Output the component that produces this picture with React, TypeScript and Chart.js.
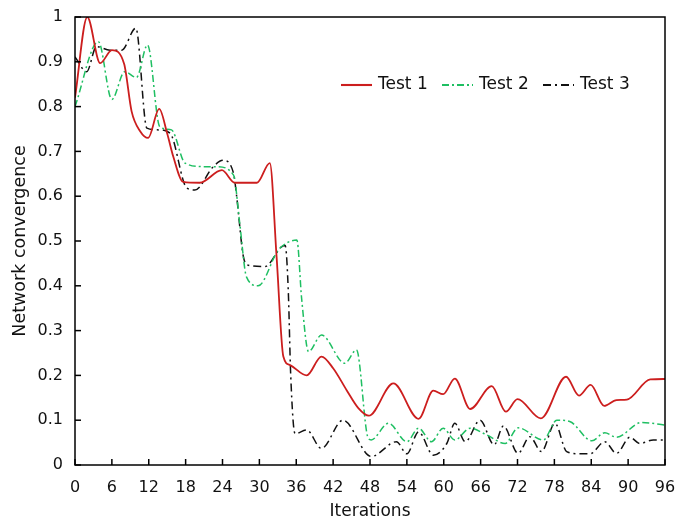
import React, { useEffect, useRef } from "react";
import { Chart, registerables } from "chart.js";

Chart.register(...registerables);

const xTicks = [0, 6, 12, 18, 24, 30, 36, 42, 48, 54, 60, 66, 72, 78, 84, 90, 96];
const yTicks = [0, 0.1, 0.2, 0.3, 0.4, 0.5, 0.6, 0.7, 0.8, 0.9, 1];

const test1X = [0, 2, 4.1, 6, 8, 9.2, 10.6, 11.9, 13.7, 15, 16, 17.6, 20.3, 23.9, 26, 29.6, 31.7, 32.8, 33.9, 35, 37.7, 40.1, 42, 44.2, 46.1, 47.8, 51.8, 55.9, 58.3, 59.9, 61.8, 64.3, 67.8, 70.1, 72, 75.8, 79.9, 82, 83.9, 86.1, 88.1, 89.8, 93.6, 96];
const test1Y = [0.82, 1.0, 0.897, 0.926, 0.895, 0.79, 0.745, 0.73, 0.795, 0.74, 0.688, 0.632, 0.63, 0.658, 0.63, 0.63, 0.674, 0.465, 0.242, 0.223, 0.2, 0.242, 0.216, 0.167, 0.127, 0.11, 0.182, 0.103, 0.166, 0.158, 0.193, 0.125, 0.176, 0.119, 0.147, 0.104, 0.197, 0.155, 0.179, 0.132, 0.145, 0.146, 0.191, 0.192];

const test2X = [0, 3.8, 6, 8.1, 10, 11.8, 13.8, 15.7, 17.9, 20.9, 23, 25.8, 26.8, 27.9, 29.8, 33.1, 36.1, 36.9, 38, 40.1, 43.9, 45.8, 47.7, 48.2, 51, 54, 55.9, 58, 59.9, 61.8, 64.3, 67, 70, 72.1, 76.2, 78.4, 80.5, 84.1, 86.2, 88.1, 92.2, 96];
const test2Y = [0.8, 0.945, 0.816, 0.878, 0.865, 0.9375, 0.755, 0.748, 0.674, 0.666, 0.666, 0.647, 0.54, 0.42, 0.4, 0.48, 0.502, 0.368, 0.253, 0.29, 0.227, 0.257, 0.06, 0.056, 0.093, 0.052, 0.082, 0.052, 0.082, 0.056, 0.082, 0.067, 0.048, 0.083, 0.056, 0.1, 0.097, 0.054, 0.072, 0.062, 0.095, 0.089];

const test3X = [0, 1.9, 3.5, 5.7, 7.6, 9.9, 11.7, 13.8, 15.5, 18.2, 19.5, 22.5, 24.1, 25.8, 26.3, 27.4, 28.2, 30.9, 33.6, 34.2, 34.7, 35.1, 35.8, 37.7, 40.1, 43.6, 48.2, 52.3, 54, 55.9, 58.3, 60.5, 61.8, 63.5, 65.9, 68.2, 69.7, 72.1, 74, 75.9, 78.1, 80, 82.2, 83.8, 86.2, 88.1, 90.3, 91.9, 94.1, 96];
const test3Y = [0.911, 0.878, 0.934, 0.926, 0.926, 0.975, 0.752, 0.748, 0.74, 0.618, 0.614, 0.666, 0.68, 0.651, 0.6, 0.465, 0.446, 0.443, 0.487, 0.49, 0.39, 0.2, 0.07, 0.078, 0.037, 0.1, 0.019, 0.052, 0.025, 0.074, 0.022, 0.048, 0.093, 0.052, 0.1, 0.045, 0.087, 0.026, 0.063, 0.03, 0.093, 0.03, 0.025, 0.025, 0.052, 0.026, 0.062, 0.048, 0.056, 0.056];

const seriesNames = ["Test 1", "Test 2", "Test 3"];
const seriesColors = ["#cc1e1e", "#1fbf62", "#111111"];
const seriesDashes: number[][] = [[], [7, 3, 2, 3], [8, 4, 2, 4]];
const seriesWidths = [1.8, 1.5, 1.5];

const FONT = "'DejaVu Sans', Verdana, sans-serif";

const toPoints = (xs: number[], ys: number[]) => xs.map((x, i) => ({ x, y: ys[i] }));

const framePlugin = {
  id: "frameTicks",
  afterDraw(chart: any) {
    const { ctx, chartArea, scales } = chart;
    const { left, right, top, bottom } = chartArea;
    ctx.save();
    ctx.strokeStyle = "#000";
    ctx.lineWidth = 1.5;
    ctx.setLineDash([]);
    ctx.strokeRect(left, top, right - left, bottom - top);
    xTicks.forEach((v) => {
      const px = scales.x.getPixelForValue(v);
      ctx.beginPath();
      ctx.moveTo(px, bottom);
      ctx.lineTo(px, bottom - 6);
      ctx.stroke();
    });
    yTicks.forEach((v) => {
      const py = scales.y.getPixelForValue(v);
      ctx.beginPath();
      ctx.moveTo(left, py);
      ctx.lineTo(left + 6, py);
      ctx.stroke();
    });
    // legend
    const lx = [341, 442, 543];
    const ly = 85;
    ctx.font = `17px ${FONT}`;
    ctx.textBaseline = "middle";
    ctx.textAlign = "left";
    seriesNames.forEach((name, i) => {
      ctx.strokeStyle = seriesColors[i];
      ctx.lineWidth = seriesWidths[i] + 0.3;
      ctx.setLineDash(seriesDashes[i]);
      ctx.beginPath();
      ctx.moveTo(lx[i], ly);
      ctx.lineTo(lx[i] + 31, ly);
      ctx.stroke();
      ctx.setLineDash([]);
      ctx.fillStyle = "#111";
      ctx.fillText(name, lx[i] + 37, ly);
    });
    ctx.restore();
  },
};

export default function App() {
  const ref = useRef<HTMLCanvasElement | null>(null);
  useEffect(() => {
    document.body.style.margin = "0";
    const canvas = ref.current!;
    const datasets = [
      [test1X, test1Y],
      [test2X, test2Y],
      [test3X, test3Y],
    ].map(([xs, ys], i) => ({
      label: seriesNames[i],
      data: toPoints(xs, ys),
      borderColor: seriesColors[i],
      borderWidth: seriesWidths[i],
      borderDash: seriesDashes[i],
      pointRadius: 0,
      fill: false,
      cubicInterpolationMode: "monotone" as const,
    }));
    const chart = new Chart(canvas, {
      type: "line",
      data: { datasets },
      options: {
        animation: false,
        responsive: false,
        layout: { padding: { top: 17, right: 11, left: 0, bottom: 0 } },
        plugins: { legend: { display: false }, tooltip: { enabled: false } },
        scales: {
          x: {
            type: "linear",
            min: 0,
            max: 96,
            afterBuildTicks: (s: any) => {
              s.ticks = xTicks.map((v) => ({ value: v }));
            },
            afterFit: (s: any) => {
              s.height = 53;
              s.paddingLeft = 0;
              s.paddingRight = 0;
              s.paddingTop = 0;
              s.paddingBottom = 0;
            },
            grid: { display: false, drawTicks: false },
            border: { display: false },
            ticks: { color: "#111", font: { family: FONT, size: 16 }, padding: 13, maxRotation: 0, autoSkip: false },
            title: { display: true, text: "Iterations", color: "#111", font: { family: FONT, size: 17 }, padding: { top: 0, bottom: -4 } },
          },
          y: {
            type: "linear",
            min: 0,
            max: 1,
            afterBuildTicks: (s: any) => {
              s.ticks = yTicks.map((v) => ({ value: v }));
            },
            afterFit: (s: any) => {
              s.width = 75;
              s.paddingLeft = 0;
              s.paddingRight = 0;
              s.paddingTop = 0;
              s.paddingBottom = 0;
            },
            grid: { display: false, drawTicks: false },
            border: { display: false },
            ticks: { color: "#111", font: { family: FONT, size: 16 }, padding: 12, autoSkip: false, callback: (v: any) => String(v) },
            title: { display: true, text: "Network convergence", color: "#111", font: { family: FONT, size: 17.5 }, padding: { top: 10, bottom: 4 } },
          },
        },
      },
      plugins: [framePlugin],
    });
    return () => chart.destroy();
  }, []);
  return (
    <div style={{ width: 676, height: 518 }}>
      <canvas ref={ref} width={676} height={518} style={{ display: "block" }} />
    </div>
  );
}
